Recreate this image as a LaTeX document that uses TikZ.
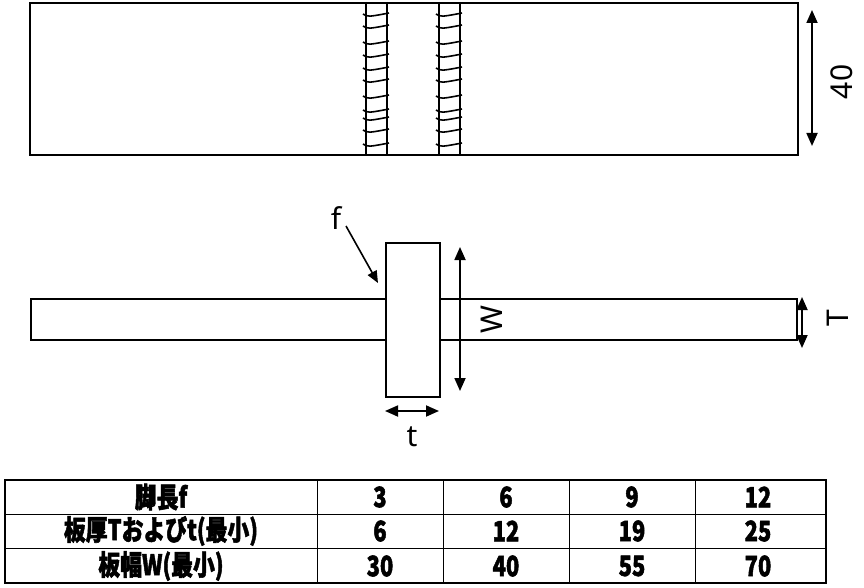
\documentclass[tikz,border=0pt]{standalone}
\usepackage{fontspec}
\setmainfont{Noto Sans}
\newfontfamily\jp{Noto Sans CJK JP}
\usetikzlibrary{arrows.meta}
\begin{document}
\begin{tikzpicture}[x=1pt,y=-1pt,line width=2pt,
  dim/.style={line width=1.8pt,{Triangle[length=13pt,width=11pt]}-{Triangle[length=13pt,width=11pt]}},
  lbl/.style={font=\fontsize{30}{30}\selectfont},
  cell/.style={font=\jp\bfseries\fontsize{28}{28}\selectfont\addfontfeature{FakeBold=2},xscale=0.78}]
\useasboundingbox (0,0) rectangle (864,588);
% top plate
\node[draw,minimum width=768pt,minimum height=152pt,anchor=north west,inner sep=0,line width=2pt] (top) at (29,2) {};
\foreach \a/\b in {366/387,439/460}{
  \draw (\a,2) -- (\a,154) (\b,2) -- (\b,154);
  \foreach \y in {14,26,42,55,68,80,96,110,118,130,144}
    \draw[line width=1.6pt] (\a-3,\y) .. controls (\a+2,\y+3) .. (\b+2,\y-1);
}
\coordinate (d40a) at (812,10); \coordinate (d40b) at (812,146);
\draw[dim] (d40a) -- (d40b);
\node[lbl,rotate=90] (l40) at (842,82) {40};
% side view
\node[draw,minimum width=766pt,minimum height=41pt,anchor=north west,inner sep=0] (hp) at (30,298) {};
\node[draw,fill=white,minimum width=54pt,minimum height=154pt,anchor=north west,inner sep=0] (vp) at (385,242) {};
\coordinate (wa) at (460,247); \coordinate (wb) at (460,391);
\draw[dim] (wa) -- (wb);
\node[lbl,rotate=90] (lW) at (492,320) {W};
\coordinate (ta) at (802,297); \coordinate (tb) at (802,348);
\draw[dim] (ta) -- (tb);
\node[lbl,rotate=90] (lT) at (838,318) {T};
\coordinate (sa) at (385,411); \coordinate (sb) at (439,411);
\draw[dim] (sa) -- (sb);
\node[lbl] (lt) at (412,437) {t};
\node[lbl] (lf) at (336,218) {f};
\coordinate (fa) at (378,283);
\draw[line width=1.6pt,-{Triangle[length=12pt,width=10pt]}] (346,226) -- (fa);
% table
\draw[line width=1.4pt] (5,480) rectangle (826,583);
\foreach \y in {514,548} \draw[line width=1pt] (5,\y) -- (826,\y);
\foreach \x in {317,443,569,695} \draw[line width=1pt] (\x,480) -- (\x,583);
\node[cell] (c11) at (161,497) {脚長f};
\node[cell] (c21) at (161,531) {板厚Tおよびt(最小)};
\node[cell] (c31) at (161,566) {板幅W(最小)};
\foreach \v [count=\i] in {3,6,9,12} \node[cell] (a\i) at ({317+126*(\i-1)+63},497) {\v};
\foreach \v [count=\i] in {6,12,19,25} \node[cell] (b\i) at ({317+126*(\i-1)+63},531) {\v};
\foreach \v [count=\i] in {30,40,55,70} \node[cell] (e\i) at ({317+126*(\i-1)+63},566) {\v};
\end{tikzpicture}
\end{document}
